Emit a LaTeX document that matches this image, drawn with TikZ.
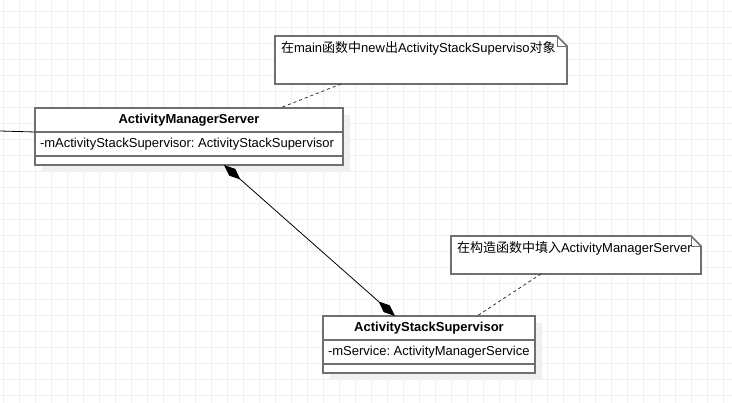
\documentclass[tikz,border=0pt]{standalone}
\usepackage{fontspec}
\setmainfont{Liberation Sans}
\newfontfamily\cjk{Noto Sans CJK SC}
\usetikzlibrary{positioning,arrows.meta,shadows,backgrounds}
\definecolor{gridgray}{HTML}{F0F0F0}
\definecolor{boxgray}{HTML}{707070}
\definecolor{shadowgray}{HTML}{F0F0F0}
\begin{document}
\begin{tikzpicture}[x=1pt, y=-1pt, font=\fontsize{13}{15}\selectfont\frenchspacing,
    classpart/.style={draw=boxgray, line width=1.6pt, fill=white, inner sep=0pt, outer sep=0pt,
        drop shadow={shadow xshift=7pt, shadow yshift=-7pt, fill=shadowgray, opacity=1}},
    class title/.style={classpart, font=\fontsize{13}{15}\selectfont\bfseries},
    class attr/.style={classpart, align=flush left, inner xsep=5pt},
    class ops/.style={classpart},
    note box/.style={inner xsep=6pt, inner ysep=6pt, outer sep=0pt, anchor=north west},
    note outline/.style={draw=boxgray, line width=1.6pt, fill=white},
    note line/.style={dashed, dash pattern=on 3pt off 3pt, line width=0.8pt, draw=black!80},
    composition/.style={line width=0.8pt, {Diamond[length=22pt,width=9pt]}-{Diamond[length=22pt,width=9pt]}}]

    \useasboundingbox (0,0) rectangle (732,403);
    \begin{scope}[on background layer]
        \fill[white] (0,0) rectangle (732,403);
        % background grid
        \foreach \gx in {3,19,...,731}
            \draw[gridgray, line width=1pt] (\gx,0) -- (\gx,403);
        \foreach \gy in {12,28,...,403}
            \draw[gridgray, line width=1pt] (0,\gy) -- (732,\gy);
    \end{scope}

    % ActivityManagerServer
    \node[class title, minimum width=308pt, minimum height=24pt] at (189,120) (amsname) {ActivityManagerServer};
    \node[class attr, text width=298pt, minimum height=24pt, below=0pt of amsname] (amsattr) {-mActivityStackSupervisor: ActivityStackSupervisor};
    \node[class ops, minimum width=308pt, minimum height=9pt, below=0pt of amsattr] (amsops) {};

    % ActivityStackSupervisor
    \node[class title, minimum width=212pt, minimum height=24pt] at (429,328) (assname) {ActivityStackSupervisor};
    \node[class attr, text width=202pt, minimum height=24pt, below=0pt of assname] (assattr) {-mService: ActivityManagerService};
    \node[class ops, minimum width=212pt, minimum height=9pt, below=0pt of assattr] (assops) {};

    % notes
    \node[note box] at (275,36) (note1) {\parbox[c][36pt][t]{280pt}{{\cjk 在}main{\cjk 函数中}new{\cjk 出}ActivityStackSuperviso{\cjk 对象}}};
    \node[note box] at (451,236) (note2) {\parbox[c][26pt][t]{238pt}{{\cjk 在构造函数中填入}ActivityManagerServer}};
    \begin{scope}[on background layer]
        \draw[note outline] (note1.north west) -- ([xshift=-10pt]note1.north east) -- ([yshift=-10pt]note1.north east) -- (note1.south east) -- (note1.south west) -- cycle;
        \draw[note outline] (note2.north west) -- ([xshift=-10pt]note2.north east) -- ([yshift=-10pt]note2.north east) -- (note2.south east) -- (note2.south west) -- cycle;
        \draw[boxgray, line width=0.8pt] ([xshift=-10pt]note1.north east) |- ([yshift=-10pt]note1.north east);
        \draw[boxgray, line width=0.8pt] ([xshift=-10pt]note2.north east) |- ([yshift=-10pt]note2.north east);
    \end{scope}

    % connectors
    \coordinate (lft) at (0,131);
    \draw[line width=0.8pt] (lft) -- (amsname.south west);
    \draw[composition] ([xshift=35pt]amsops.south) -- ([xshift=-34pt]assname.north);
    \draw[note line] ([xshift=66pt]note1.south west) -- ([xshift=245pt]amsname.north west);
    \draw[note line] ([xshift=90pt]note2.south west) -- ([xshift=154pt]assname.north west);

\end{tikzpicture}
\end{document}
